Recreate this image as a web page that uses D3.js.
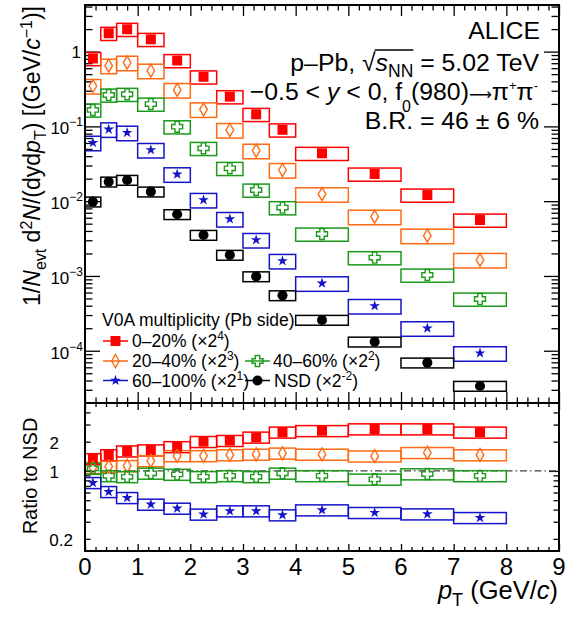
<!DOCTYPE html>
<html>
<head>
<meta charset="utf-8">
<script src="https://cdn.jsdelivr.net/npm/d3@7"></script>
<style>
  body { margin: 0; background: #fff; }
  svg { display: block; font-family: "Liberation Sans", Arial, Helvetica, sans-serif; }
  text { white-space: pre; }
</style>
</head>
<body>
<div id="chart-area"></div>
<script>
'use strict';
const svg_width = 579;
const svg_height = 617;

// pT bins (GeV/c)
const bin_lo = [0, 0.3, 0.6, 1.0, 1.5, 2.0, 2.5, 3.0, 3.5, 4, 5, 6, 7];
const bin_hi = [0.3, 0.6, 1.0, 1.5, 2.0, 2.5, 3.0, 3.5, 4, 5, 6, 7, 8];
const pt_centers = [0.15, 0.45, 0.8, 1.25, 1.75, 2.25, 2.75, 3.25, 3.75, 4.5, 5.5, 6.5, 7.5];

// spectra as drawn (scale factors already applied)
const yield_0_20 = [0.81, 1.76, 1.99, 1.46, 0.76, 0.46, 0.25, 0.145, 0.090, 0.0437, 0.0231, 0.0121, 0.0056];
const yield_20_40 = [0.347, 0.648, 0.711, 0.556, 0.307, 0.169, 0.0895, 0.0473, 0.0261, 0.0124, 0.0062, 0.00346, 0.00164];
const yield_40_60 = [0.166, 0.263, 0.269, 0.199, 0.099, 0.0509, 0.0275, 0.0141, 0.0082, 0.00364, 0.00176, 0.00103, 0.000492];
const yield_60_100 = [0.0605, 0.0914, 0.0824, 0.0484, 0.0229, 0.0104, 0.00578, 0.00303, 0.00159, 0.000798, 0.000397, 0.0002, 0.0000927];
const yield_nsd = [0.00985, 0.0182, 0.0192, 0.0134, 0.00668, 0.00353, 0.00191, 0.000986, 0.00055, 0.000258, 0.000132, 0.0000693, 0.0000338];

// ratio to NSD
const ratio_0_20 = [1.33, 1.46, 1.60, 1.64, 1.77, 2.00, 2.05, 2.22, 2.50, 2.59, 2.70, 2.70, 2.50];
const ratio_20_40 = [1.08, 1.11, 1.13, 1.27, 1.43, 1.43, 1.46, 1.48, 1.52, 1.48, 1.42, 1.54, 1.46];
const ratio_40_60 = [1.06, 0.89, 0.87, 0.945, 0.92, 0.87, 0.89, 0.87, 0.945, 0.89, 0.82, 0.93, 0.89];
const ratio_60_100 = [0.756, 0.611, 0.53, 0.453, 0.412, 0.358, 0.387, 0.387, 0.352, 0.396, 0.372, 0.36, 0.33];

// relative systematic uncertainties (boxes)
const sys_spectra = [0.20, 0.22, 0.20, 0.22, 0.15];
const sys_ratio = [0.13, 0.13, 0.13, 0.13];

const series_names = ['0\u201320%', '20\u201340%', '40\u201360%', '60\u2013100%', 'NSD'];
const series_pow = ['4', '3', '2', '1', '-2'];
const series_colors = ['#ff0000', '#ff6a13', '#1c9a1c', '#1414c8', '#000000'];
const series_markers = ['square', 'diamond', 'cross', 'star', 'circle'];

const spectra = [yield_0_20, yield_20_40, yield_40_60, yield_60_100, yield_nsd];
const ratios = [ratio_0_20, ratio_20_40, ratio_40_60, ratio_60_100];

const x_ticks = d3.range(0, 10);
const top_y_ticks = [1, 1e-1, 1e-2, 1e-3, 1e-4];
const ratio_y_labels = [0.2, 1, 2];

const svg = d3.select('#chart-area')
  .append('svg')
    .attr('width', svg_width)
    .attr('height', svg_height);
svg.append('rect').attr('width', svg_width).attr('height', svg_height).attr('fill', '#fff');

const x_scale = d3.scaleLinear().domain([0, 9]).range([85, 559]);
const y_top = d3.scaleLog().domain([2e-5, 4.2]).range([403, 5]);
const y_rat = d3.scaleLog().domain([0.15, 5]).range([551, 403]);

// rich text with sub/superscripts
const rich = (parent, x, y, parts, anchor, size) => {
  const t = parent.append('text')
    .attr('x', x).attr('y', y)
    .attr('text-anchor', anchor)
    .attr('font-size', size)
    .attr('fill', '#000');
  let shift = 0;
  parts.forEach(p => {
    const sh = p.sh || 0;
    const ts = t.append('tspan').text(p.t).attr('dy', sh - shift);
    if (p.fs) ts.attr('font-size', p.fs);
    if (p.it) ts.attr('font-style', 'italic');
    if (p.ff) ts.attr('font-family', p.ff);
    shift = sh;
  });
  return t;
};

const marker_path = (type) => {
  if (type === 'square') return 'M-5,-5h10v10h-10z';
  if (type === 'diamond') return 'M0,-6.5L3.8,0L0,6.5L-3.8,0Z';
  if (type === 'cross') {
    const a = 2.2, s = 5.5;
    return `M${-a},${-s}H${a}V${-a}H${s}V${a}H${a}V${s}H${-a}V${a}H${-s}V${-a}H${-a}Z`;
  }
  if (type === 'star') return d3.symbol(d3.symbolStar, 36)();
  return d3.symbol(d3.symbolCircle, 80)();
};
const is_open = (type) => type === 'diamond' || type === 'cross';

const draw_marker = (g, type, color, cx, cy) => {
  g.append('path')
    .attr('d', marker_path(type))
    .attr('transform', `translate(${cx},${cy})`)
    .attr('fill', is_open(type) ? 'none' : color)
    .attr('stroke', is_open(type) ? color : 'none')
    .attr('stroke-width', 1.4);
};

// ---- ticks ----
const tick_group = (axis, transform, size) => {
  const g = svg.append('g').attr('transform', transform)
    .call(axis.tickSize(size).tickFormat(''));
  g.select('.domain').remove();
  g.selectAll('line').attr('stroke', '#000').attr('stroke-width', 1.3);
  return g;
};
const x_minor = d3.range(0, 9.001, 0.2).filter(v => Math.abs(v - Math.round(v)) > 1e-6);
const top_minor = [];
[-5, -4, -3, -2, -1, 0].forEach(e => {
  for (let k = 2; k <= 9; k++) {
    const v = k * Math.pow(10, e);
    if (v > 2e-5 && v < 4.2) top_minor.push(v);
  }
});
const rat_minor = [0.2, 0.3, 0.4, 0.5, 0.6, 0.7, 0.8, 0.9, 2, 3, 4];

// top panel
tick_group(d3.axisBottom(x_scale).tickValues(x_ticks), 'translate(0,403)', -11);
tick_group(d3.axisBottom(x_scale).tickValues(x_minor), 'translate(0,403)', -5.5);
tick_group(d3.axisTop(x_scale).tickValues(x_ticks), 'translate(0,5)', -11);
tick_group(d3.axisTop(x_scale).tickValues(x_minor), 'translate(0,5)', -5.5);
tick_group(d3.axisLeft(y_top).tickValues(top_y_ticks), 'translate(85,0)', -15);
tick_group(d3.axisLeft(y_top).tickValues(top_minor), 'translate(85,0)', -7.5);
tick_group(d3.axisRight(y_top).tickValues(top_y_ticks), 'translate(559,0)', -15);
tick_group(d3.axisRight(y_top).tickValues(top_minor), 'translate(559,0)', -7.5);
// ratio panel
tick_group(d3.axisBottom(x_scale).tickValues(x_ticks), 'translate(0,551)', -7);
tick_group(d3.axisBottom(x_scale).tickValues(x_minor), 'translate(0,551)', -4);
tick_group(d3.axisTop(x_scale).tickValues(x_ticks), 'translate(0,403)', -7);
tick_group(d3.axisTop(x_scale).tickValues(x_minor), 'translate(0,403)', -4);
tick_group(d3.axisLeft(y_rat).tickValues([1]), 'translate(85,0)', -10);
tick_group(d3.axisLeft(y_rat).tickValues(rat_minor), 'translate(85,0)', -5.5);
tick_group(d3.axisRight(y_rat).tickValues([1]), 'translate(559,0)', -10);
tick_group(d3.axisRight(y_rat).tickValues(rat_minor), 'translate(559,0)', -5.5);

// reference line at 1
svg.append('line')
  .attr('x1', x_scale(0)).attr('x2', x_scale(9))
  .attr('y1', y_rat(1)).attr('y2', y_rat(1))
  .attr('stroke', '#444').attr('stroke-width', 1.2)
  .attr('stroke-dasharray', '7,3,1.5,3');

// ---- systematic boxes ----
const boxes = svg.append('g').attr('fill', 'none').attr('stroke-width', 1.5);
spectra.forEach((vals, s) => {
  vals.forEach((v, i) => {
    const y1 = y_top(v * (1 + sys_spectra[s]));
    const y2 = y_top(v * (1 - sys_spectra[s]));
    boxes.append('rect')
      .attr('x', x_scale(bin_lo[i])).attr('width', x_scale(bin_hi[i]) - x_scale(bin_lo[i]))
      .attr('y', y1).attr('height', y2 - y1)
      .attr('stroke', series_colors[s]);
  });
});
ratios.forEach((vals, s) => {
  vals.forEach((v, i) => {
    const y1 = y_rat(v * (1 + sys_ratio[s]));
    const y2 = y_rat(v * (1 - sys_ratio[s]));
    boxes.append('rect')
      .attr('x', x_scale(bin_lo[i])).attr('width', x_scale(bin_hi[i]) - x_scale(bin_lo[i]))
      .attr('y', y1).attr('height', y2 - y1)
      .attr('stroke', series_colors[s]);
  });
});

// ---- markers ----
const marks = svg.append('g');
spectra.forEach((vals, s) => {
  vals.forEach((v, i) => draw_marker(marks, series_markers[s], series_colors[s], x_scale(pt_centers[i]), y_top(v)));
});
ratios.forEach((vals, s) => {
  vals.forEach((v, i) => draw_marker(marks, series_markers[s], series_colors[s], x_scale(pt_centers[i]), y_rat(v)));
});

// ---- frames ----
svg.append('rect').attr('x', 85).attr('y', 5).attr('width', 474).attr('height', 398)
  .attr('fill', 'none').attr('stroke', '#000').attr('stroke-width', 2);
svg.append('rect').attr('x', 85).attr('y', 403).attr('width', 474).attr('height', 148)
  .attr('fill', 'none').attr('stroke', '#000').attr('stroke-width', 2);

// ---- tick labels ----
x_ticks.forEach(v => {
  svg.append('text').attr('x', x_scale(v)).attr('y', 575)
    .attr('text-anchor', 'middle').attr('font-size', 24).text(v);
});
top_y_ticks.forEach(v => {
  if (v === 1) {
    svg.append('text').attr('x', 81).attr('y', y_top(v) + 6)
      .attr('text-anchor', 'end').attr('font-size', 17).text('1');
  } else {
    const e = Math.round(Math.log10(v));
    rich(svg, 83, y_top(v) + 8, [{t: '10'}, {t: '\u2212' + (-e), fs: 12, sh: -8}], 'end', 17);
  }
});
ratio_y_labels.forEach(v => {
  const xr = Number.isInteger(v) ? 59 : 73;
  svg.append('text').attr('x', xr).attr('y', y_rat(v) + 7)
    .attr('text-anchor', 'end').attr('font-size', 17).text(v);
});

// ---- axis titles ----
rich(svg, 558, 599, [
  {t: 'p', it: true}, {t: 'T', fs: 18, sh: 7}, {t: ' (GeV/'}, {t: 'c', it: true}, {t: ')'}
], 'end', 25.5);

const ytitle = svg.append('g').attr('transform', 'translate(40,6) rotate(-90)');
rich(ytitle, 0, 0, [
  {t: '1/'}, {t: 'N', it: true}, {t: 'evt', fs: 16, sh: 6}, {t: ' d'}, {t: '2', fs: 16, sh: -8},
  {t: 'N', it: true}, {t: '/(dyd'}, {t: 'p', it: true}, {t: 'T', fs: 16, sh: 6},
  {t: ') [(GeV/'}, {t: 'c', it: true}, {t: '\u22121', fs: 16, sh: -8}, {t: ')]'}
], 'end', 23);

const rtitle = svg.append('g').attr('transform', 'translate(37,476) rotate(-90)');
rtitle.append('text').attr('text-anchor', 'middle').attr('font-size', 20).text('Ratio to NSD');

// ---- labels top right ----
const lab_size = 24.8;
rich(svg, 540, 38.5, [{t: 'ALICE'}], 'end', lab_size);
const pre = 'p\u2013Pb, ';
const pl = rich(svg, 539, 71, [
  {t: pre}, {t: '\u221A'}, {t: 's', it: true}, {t: 'NN', fs: 17.5, sh: 6}, {t: ' = 5.02 TeV'}
], 'end', lab_size);
{
  const node = pl.node();
  const i_sqrt = pre.length;
  const i_end = i_sqrt + 3;
  const a = node.getExtentOfChar(i_sqrt);
  const b = node.getExtentOfChar(i_end);
  svg.append('line')
    .attr('x1', a.x + a.width - 1).attr('x2', b.x + b.width)
    .attr('y1', 50).attr('y2', 50)
    .attr('stroke', '#000').attr('stroke-width', 1.3);
}
rich(svg, 538, 100, [
  {t: '\u22120.5 < '}, {t: 'y', it: true}, {t: ' < 0, f'}, {t: '0', fs: 16, sh: 12},
  {t: '(980)'}, {t: '\u27F6', ff: 'DejaVu Sans', fs: 16}, {t: '\u03C0'},
  {t: '+', fs: 13, sh: -10}, {t: '\u03C0'}, {t: '-', fs: 13, sh: -10}
], 'end', lab_size);
rich(svg, 539, 128.5, [{t: 'B.R. = 46 \u00B1 6 %'}], 'end', lab_size);

// ---- legend ----
const legend = svg.append('g');
legend.append('text').attr('x', 102).attr('y', 325.5).attr('font-size', 17.5)
  .text('V0A multiplicity (Pb side)');
const leg_pos = [
  {lx: 103, tx: 132, y: 347},
  {lx: 103, tx: 132, y: 367},
  {lx: 245, tx: 273, y: 367},
  {lx: 103, tx: 132, y: 386.5},
  {lx: 245, tx: 274, y: 386.5}
];
series_names.forEach((name, s) => {
  const p = leg_pos[s];
  const cy = p.y - 6;
  legend.append('line')
    .attr('x1', p.lx).attr('x2', p.lx + 25).attr('y1', cy).attr('y2', cy)
    .attr('stroke', series_colors[s]).attr('stroke-width', 1.5);
  draw_marker(legend, series_markers[s], series_colors[s], p.lx + 12.5, cy);
  rich(legend, p.tx, p.y, [
    {t: name + ' (\u00D72'}, {t: series_pow[s], fs: 12, sh: -7}, {t: ')'}
  ], 'start', 17.5);
});
</script>
</body>
</html>
